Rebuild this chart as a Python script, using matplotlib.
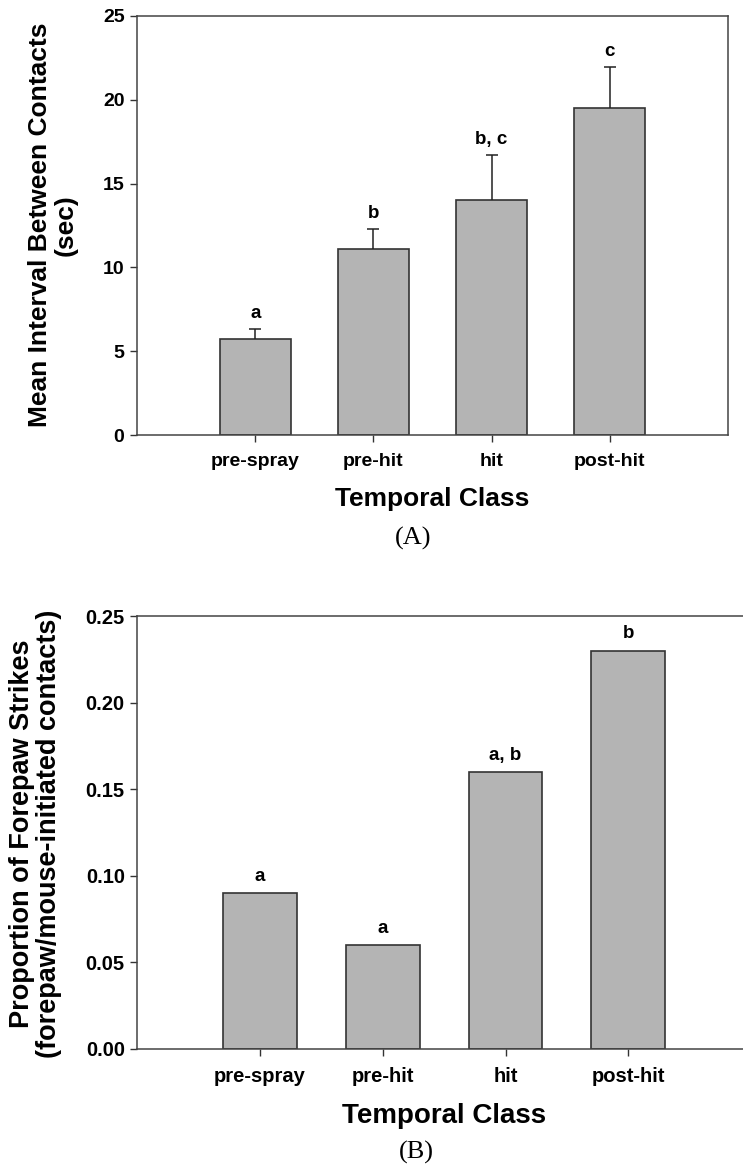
import matplotlib
matplotlib.use("Agg")
import matplotlib.pyplot as plt
from matplotlib.ticker import FormatStrFormatter

plt.rcParams["font.family"] = ["Liberation Sans", "DejaVu Sans"]
plt.rcParams["font.weight"] = "bold"

classes = ["pre-spray", "pre-hit", "hit", "post-hit"]

# panel A: mean interval between contacts (sec), upper SEM
interval_mean = [5.7, 11.1, 14.0, 19.5]
interval_sem = [0.6, 1.2, 2.7, 2.45]
interval_letters = ["a", "b", "b, c", "c"]

# panel B: proportion of forepaw strikes
strike_prop = [0.09, 0.06, 0.16, 0.23]
strike_letters = ["a", "a", "a, b", "b"]

BAR_COLOR = "#b4b4b4"
EDGE = "#333333"
W, H = 743, 1167

fig = plt.figure(figsize=(W / 100, H / 100), dpi=100)


def px_axes(left, top, right, bottom):
    return fig.add_axes([left / W, 1 - bottom / H, (right - left) / W, (bottom - top) / H])


def style_axes(ax, yticks, fmt, tick_size):
    x = range(1, len(classes) + 1)
    ax.set_xlim(0, 5)
    ax.set_xticks(list(x))
    ax.set_xticklabels(classes, fontsize=tick_size, fontweight="bold")
    ax.set_yticks(yticks)
    ax.yaxis.set_major_formatter(FormatStrFormatter(fmt))
    ax.tick_params(axis="y", labelsize=tick_size, length=5, width=1, color="#333333", pad=4)
    ax.tick_params(axis="x", length=5, width=1, color="#333333", pad=8)
    for lab in ax.get_yticklabels():
        lab.set_fontweight("bold")
    for sp in ax.spines.values():
        sp.set_color("#444444")
        sp.set_linewidth(1.1)


# ---- (A) ----
axA = px_axes(137, 16, 728, 435)
xs = list(range(1, len(classes) + 1))
axA.bar(xs, interval_mean, width=0.6, color=BAR_COLOR, edgecolor=EDGE, linewidth=1.2, zorder=2)
# upper error bars only, with a cap on the top end
tops = [m + e for m, e in zip(interval_mean, interval_sem)]
axA.vlines(xs, interval_mean, tops, color="#222222", linewidth=1.1, zorder=3)
axA.plot(xs, tops, linestyle="none", marker="_", markersize=9, markeredgewidth=1.1,
         color="#222222", zorder=3)
axA.set_ylim(0, 25)
style_axes(axA, [0, 5, 10, 15, 20, 25], "%d", 14)
for xi, t, lab in zip(xs, tops, interval_letters):
    axA.annotate(lab, (xi, t), xytext=(0, 5), textcoords="offset points",
                 ha="center", va="bottom", fontsize=13.5, fontweight="bold")
axA.set_xlabel("Temporal Class", fontsize=19, fontweight="bold", labelpad=12)
fig.text(53 / W, 1 - 225 / H, "Mean Interval Between Contacts\n(sec)", rotation=90,
         ha="center", va="center", fontsize=19, fontweight="bold", linespacing=1.1)
fig.text(413 / W, 1 - 538 / H, "(A)", ha="center", va="center", fontsize=19,
         family="Liberation Serif", fontweight="normal")

# ---- (B) ----
axB = px_axes(137.3, 616, 751, 1049)
axB.bar(xs, strike_prop, width=0.6, color=BAR_COLOR, edgecolor=EDGE, linewidth=1.2, zorder=2)
axB.set_ylim(0, 0.25)
style_axes(axB, [0, 0.05, 0.10, 0.15, 0.20, 0.25], "%.2f", 14.5)
for xi, v, lab in zip(xs, strike_prop, strike_letters):
    axB.annotate(lab, (xi, v), xytext=(0, 6), textcoords="offset points",
                 ha="center", va="bottom", fontsize=13.5, fontweight="bold")
axB.set_xlabel("Temporal Class", fontsize=20, fontweight="bold", labelpad=12)
fig.text(36 / W, 1 - 834 / H, "Proportion of Forepaw Strikes\n(forepaw/mouse-initiated contacts)",
         rotation=90, ha="center", va="center", fontsize=19.5, fontweight="bold", linespacing=1.05)
fig.text(416 / W, 1 - 1152 / H, "(B)", ha="center", va="center", fontsize=19,
         family="Liberation Serif", fontweight="normal")

fig.savefig("out.png", dpi=100)
